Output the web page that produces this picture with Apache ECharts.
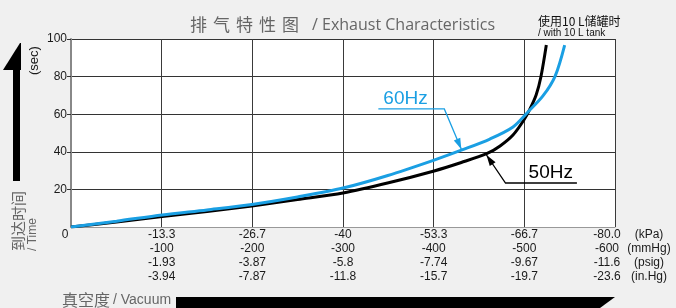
<!DOCTYPE html>
<html lang="zh">
<head>
<meta charset="UTF-8">
<title>排气特性图</title>
<style>
  html, body { margin: 0; padding: 0; background: #f0f0f0; }
  #chart { width: 676px; height: 308px; }
</style>
</head>
<body>
<div id="chart"></div>
<script src="https://cdn.jsdelivr.net/npm/echarts@6/dist/echarts.min.js"></script>
<script>
// vacuum tick labels, one column per vertical grid line (0 .. -80 kPa)
var kpaLabels  = ['0', '-13.3', '-26.7', '-40', '-53.3', '-66.7', '-80.0'];
var mmhgLabels = ['', '-100', '-200', '-300', '-400', '-500', '-600'];
var psigLabels = ['', '-1.93', '-3.87', '-5.8', '-7.74', '-9.67', '-11.6'];
var inhgLabels = ['', '-3.94', '-7.87', '-11.8', '-15.7', '-19.7', '-23.6'];
var unitLabels = ['(kPa)', '(mmHg)', '(psig)', '(in.Hg)'];

// time to reach vacuum with a 10 L tank, [kPa, sec]
var hz50 = [[0, 0], [-6.7, 2.7], [-13.4, 5.6], [-20, 8.3], [-26.6, 11.2], [-33.3, 14.6],
            [-40, 18.1], [-46.7, 23.5], [-53.4, 29.8], [-57.4, 34.3], [-61.2, 39.1],
            [-63.1, 43.1], [-65, 48.9], [-66.6, 56.9], [-67.5, 62.8], [-68.4, 70.2],
            [-69.1, 79.8], [-69.9, 96.8]];
var hz60 = [[0, 0], [-6.7, 3.1], [-13.4, 6.4], [-20, 9.1], [-26.6, 12], [-33.3, 16],
            [-40, 20.7], [-46.6, 27.4], [-53.4, 35.6], [-57.5, 41], [-61.6, 46.8],
            [-65, 53.2], [-67.2, 61.2], [-69.4, 69.7], [-71.2, 80.3], [-72.6, 96.8]];

var step = 80 / 6;
var FONT = '"Liberation Sans", Arial, sans-serif';
var CJK = '"Noto Sans CJK SC", "Noto Sans", sans-serif';

var chart = echarts.init(document.getElementById('chart'));

chart.setOption({
    backgroundColor: '#f0f0f0',
    animation: false,
    textStyle: { fontFamily: FONT },
    grid: { left: 71, right: 61, top: 39, bottom: 81, show: true, backgroundColor: '#fff', borderWidth: 0 },
    xAxis: {
        type: 'value',
        min: -80,
        max: 0,
        interval: step,
        inverse: true,
        axisLine: { show: true, lineStyle: { color: '#999', width: 1 } },
        axisTick: { show: false },
        splitLine: { show: true, lineStyle: { color: '#3a3a3a', width: 1 } },
        axisLabel: {
            margin: 1,
            color: '#1a1a1a',
            fontSize: 12,
            lineHeight: 14,
            verticalAlign: 'top',
            formatter: function (v) {
                var i = Math.round(-v / step);
                if (i === 0) return '{z|0}';
                if (i === 6) {
                    var col = [kpaLabels[6], mmhgLabels[6], psigLabels[6], inhgLabels[6]];
                    return col.map(function (t, k) {
                        return '{p| }{n|' + t + '}{g| }{u|' + unitLabels[k] + '}';
                    }).join('\n');
                }
                return [kpaLabels[i], mmhgLabels[i], psigLabels[i], inhgLabels[i]].join('\n');
            },
            rich: {
                z: { fontSize: 12, color: '#1a1a1a', lineHeight: 14, padding: [0, 12, 0, 0] },
                p: { width: 35, fontSize: 12, lineHeight: 14 },
                n: { width: 30, align: 'right', fontSize: 12, color: '#1a1a1a', lineHeight: 14 },
                g: { width: 3, fontSize: 12, lineHeight: 14 },
                u: { width: 48, align: 'left', fontSize: 12, color: '#1a1a1a', lineHeight: 14 }
            }
        }
    },
    yAxis: {
        type: 'value',
        min: 0,
        max: 100,
        interval: 20,
        axisLine: { show: true, lineStyle: { color: '#888', width: 2 } },
        axisTick: { show: true, length: 4, lineStyle: { color: '#333' } },
        splitLine: { show: true, lineStyle: { color: '#333', width: 1 } },
        axisLabel: { showMinLabel: false, margin: 4, color: '#1a1a1a', fontSize: 12 }
    },
    series: [{
        name: '50Hz',
        type: 'line',
        data: hz50,
        smooth: 0.3,
        symbol: 'none',
        lineStyle: { color: '#000', width: 3 }
    }, {
        name: '60Hz',
        type: 'line',
        data: hz60,
        smooth: 0.3,
        symbol: 'none',
        lineStyle: { color: '#1a9fe3', width: 3 }
    }]
});

// annotations placed in data units, turned into pixels by the chart
function px(p) { return chart.convertToPixel({ gridIndex: 0 }, p); }

function arrowHead(from, to, color) {
    var dx = to[0] - from[0], dy = to[1] - from[1];
    var len = Math.sqrt(dx * dx + dy * dy);
    var ux = dx / len, uy = dy / len;
    var bx = to[0] - ux * 11, by = to[1] - uy * 11;
    return {
        type: 'polygon',
        shape: { points: [to, [bx - uy * 3.5, by + ux * 3.5], [bx + uy * 3.5, by - ux * 3.5]] },
        style: { fill: color }
    };
}

var notes = [
    { text: '60Hz', color: '#1a9fe3', path: [[-45.2, 62.8], [-54.9, 62.8], [-57.4, 41.4]] },
    { text: '50Hz', color: '#000', path: [[-74.4, 23.4], [-63.9, 23.4], [-61.1, 38.3]] }
];

var gfx = [];

notes.forEach(function (n) {
    var pts = n.path.map(px);
    gfx.push({ type: 'polyline', shape: { points: pts }, style: { stroke: n.color, lineWidth: 1.3, fill: null } });
    gfx.push(arrowHead(pts[1], pts[2], n.color));
    var left = Math.min(pts[0][0], pts[1][0]);
    var right = Math.max(pts[0][0], pts[1][0]);
    gfx.push({
        type: 'text', x: n.text === '60Hz' ? left + 5 : right - 4, y: pts[0][1] - 1,
        style: { text: n.text, font: '19px ' + FONT, fill: n.color,
                 textAlign: n.text === '60Hz' ? 'left' : 'right', textVerticalAlign: 'bottom' }
    });
});

// title
'排气特性图'.split('').forEach(function (ch, i) {
    gfx.push({ type: 'text', x: 190 + i * 23, y: 25,
        style: { text: ch, font: '17px ' + CJK, fill: '#666', textAlign: 'left', textVerticalAlign: 'middle' } });
});
gfx.push({ type: 'text', x: 312, y: 25,
    style: { text: '/ Exhaust Characteristics', font: '16px "Open Sans", sans-serif', fill: '#666',
             textAlign: 'left', textVerticalAlign: 'middle' } });

// tank note
gfx.push({ type: 'text', x: 538, y: 21,
    style: { text: '使用10 L储罐时', font: '12px ' + CJK, fill: '#111', textAlign: 'left', textVerticalAlign: 'middle' } });
gfx.push({ type: 'text', x: 538, y: 33,
    style: { text: '/ with 10 L tank', font: '10px ' + FONT, fill: '#111', textAlign: 'left', textVerticalAlign: 'middle' } });

// y axis name + arrow
gfx.push({ type: 'text', x: 34, y: 75, rotation: Math.PI / 2,
    style: { text: '(sec)', font: '13px ' + FONT, fill: '#1a1a1a', textAlign: 'left', textVerticalAlign: 'middle' } });
gfx.push({ type: 'text', x: 18, y: 251, rotation: Math.PI / 2,
    style: { text: '到达时间', font: '15px ' + CJK, fill: '#666', textAlign: 'left', textVerticalAlign: 'middle' } });
gfx.push({ type: 'text', x: 33, y: 251, rotation: Math.PI / 2,
    style: { text: '/ Time', font: '12px ' + FONT, fill: '#666', textAlign: 'left', textVerticalAlign: 'middle' } });
gfx.push({ type: 'rect', shape: { x: 13, y: 69, width: 7, height: 112 }, style: { fill: '#000' } });
gfx.push({ type: 'polygon', shape: { points: [[3, 70], [20, 43], [21, 43], [21, 70]] }, style: { fill: '#000' } });

// x axis name + arrow
gfx.push({ type: 'text', x: 62, y: 300,
    style: { text: '真空度', font: '16px ' + CJK, fill: '#666', textAlign: 'left', textVerticalAlign: 'middle' } });
gfx.push({ type: 'text', x: 113, y: 300,
    style: { text: '/ Vacuum', font: '14px ' + FONT, fill: '#666', textAlign: 'left', textVerticalAlign: 'middle' } });
gfx.push({ type: 'polygon', shape: { points: [[176, 297], [615, 297], [600, 308], [176, 308]] }, style: { fill: '#000' } });

chart.setOption({ graphic: gfx });
</script>
</body>
</html>
